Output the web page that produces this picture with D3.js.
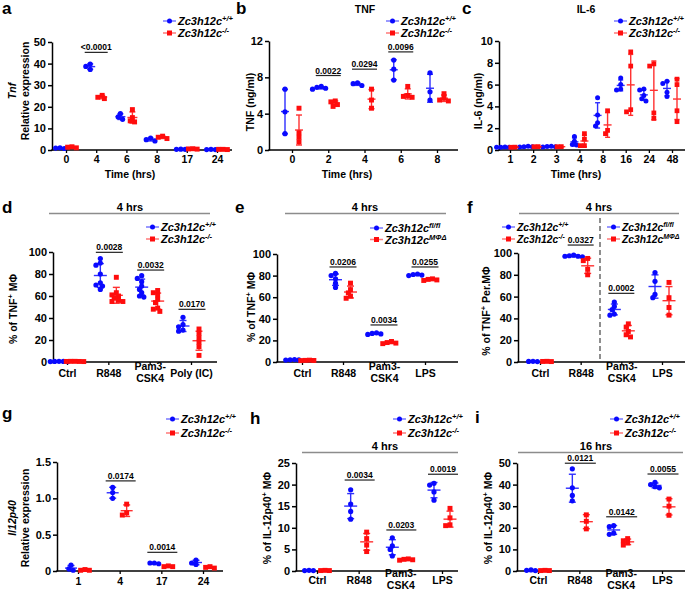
<!DOCTYPE html>
<html><head><meta charset="utf-8">
<script src="https://cdn.jsdelivr.net/npm/d3@7"></script>
<style>
body{margin:0;background:#fff}
svg{display:block}
text{font-family:Arial,"Liberation Sans",sans-serif;font-weight:bold;fill:#000}
</style>
</head><body>
<svg id="c" width="685" height="598"></svg>
<script>
const BLUE="#0a0aff", RED="#ff0d0d";

// ---------- Panel a : Tnf relative expression ----------
const aCats=["0","4","6","8","17","24"];
const aWT=[[0.9,0.7,1.0],[39.8,38.7,37.3],[16.8,15.3,14.2],[5.5,4.8,4.2],[0.4,0.3,0.3],[0.3,0.2,0.2]];
const aKO=[[1.3,1.0,1.5],[25.3,24.4,23.8],[18.7,15.0,13.5,13.0],[6.4,5.9,5.3],[0.6,0.5,0.4],[0.3,0.2,0.3]];
const aTicks=[0,10,20,30,40,50];
const aSigCats=["4"], aSigLabels=["<0.0001"], aSigLevels=[45.2];

// ---------- Panel b : TNF ng/ml ----------
const bCats=["0","2","4","6","8"];
const bWT=[[6.7,4.2,1.8],[7.0,6.8,6.9,6.7],[7.4,7.3,7.1],[9.9,8.9,7.7],[8.5,6.4,5.5]];
const bKO=[[4.6,1.9,1.4,0.9],[5.4,5.0,4.8,5.3],[6.7,5.5,4.6],[7.0,6.0,5.8,5.9],[6.2,5.7,5.5,5.4]];
const bTicks=[0,4,8,12];
const bSigCats=["2","4","6"], bSigLabels=["0.0022","0.0294","0.0096"], bSigLevels=[8.2,8.9,10.8];

// ---------- Panel c : IL-6 ng/ml ----------
const cCats=["1","2","3","4","8","16","24","48"];
const cWT=[[0.25,0.25,0.28,0.26],[0.3,0.28,0.35,0.3],[0.3,0.32,0.35,0.28],[1.25,0.8,0.5,0.45],[4.8,3.2,2.5,2.2],[6.6,6.0,5.6,5.5],[5.6,5.5,5.0,4.7,4.5],[6.3,6.1,5.3,4.9]];
const cKO=[[0.25,0.26],[0.3,0.31],[0.3,0.31],[1.5,1.0,0.4,0.4],[3.6,1.8,1.5],[9.0,7.7,3.7,3.5],[7.9,7.7,3.4,2.9],[6.5,6.0,3.6,2.6]];
const cTicks=[0,2,4,6,8,10];

// ---------- Panel d : % TNF+ MΦ ----------
const dCats=["Ctrl","R848","Pam3-\nCSK4","Poly (IC)"];
const dWT=[[0.5,0.4,0.6,0.5,0.4],[94,90,88,80,72,70,69,66],[78.5,76,73,69,66,63,60,59],[40.6,34,32,29,28]];
const dKO=[[0.5,0.6,0.4,0.5,0.6],[77,63,61,60,58,56,55,55],[65,63,61,57,54,49,48,46],[30,26,22,18,14,6]];
const pctTicks=[0,20,40,60,80,100];
const dSigCats=["R848","Pam3-\nCSK4","Poly (IC)"], dSigLabels=["0.0028","0.0032","0.0170"], dSigLevels=[99.7,83.6,47.9];

// ---------- Panel e ----------
const eCats=["Ctrl","R848","Pam3-\nCSK4","LPS"];
const eWT=[[2.0,1.8,2.2,1.9],[82,80,77,73,69],[27,26.5,26,25.5],[81.5,81,80.5,80]];
const eKO=[[1.5,1.3,1.7,1.4],[73,67,64,61,59],[19,18,17,17.5],[77,76.5,76,75.5]];
const eSigCats=["R848","Pam3-\nCSK4","LPS"], eSigLabels=["0.0206","0.0034","0.0255"], eSigLevels=[88,34.3,88];

// ---------- Panel f ----------
const fCats=["Ctrl","R848","Pam3-\nCSK4","LPS"];
const fWT=[[0.5,0.4,0.6],[97.5,97,96.5,97,98],[55,51,48,44,43],[82,74,62,59]];
const fKO=[[0.5,0.4,0.6],[95,93,85,80],[35,32,28,25,23],[73,59,50,43]];
const fSigCats=["R848","Pam3-\nCSK4"], fSigLabels=["0.0327","0.0002"], fSigLevels=[107.3,63];

// ---------- Panel g : Il12p40 ----------
const gCats=["1","4","17","24"];
const gWT=[[0.08,0.03,0.01],[1.15,1.08,1.0],[0.11,0.11,0.1],[0.15,0.11,0.09]];
const gKO=[[0.02,0.01,0.01],[0.92,0.8,0.77],[0.06,0.06,0.07],[0.06,0.05,0.04]];
const gTicks=[0,0.5,1.0,1.5], gTickLabels=["0","0.5","1.0","1.5"];
const gSigCats=["4","17"], gSigLabels=["0.0174","0.0014"], gSigLevels=[1.24,0.257];

// ---------- Panel h ----------
const hCats=["Ctrl","R848","Pam3-\nCSK4","LPS"];
const hWT=[[0.1,0.15,0.1],[18.8,15.5,13.8,12],[7.7,5.8,5.0,3.5],[20.3,19.9,18.3,16.4]];
const hKO=[[0.1,0.1,0.15],[9,7.5,6,4.5],[2.8,2.6,2.5,2.7],[14.5,12.3,10.7,10.5]];
const hTicks=[0,5,10,15,20,25];
const hSigCats=["R848","Pam3-\nCSK4","LPS"], hSigLabels=["0.0034","0.0203","0.0019"], hSigLevels=[21.06,9.5,22.4];

// ---------- Panel i ----------
const iCats=["Ctrl","R848","Pam3-\nCSK4","LPS"];
const iWT=[[0.5,0.3,0.2],[47.3,38.5,35,32.5],[21,20.5,17.5,17],[41,40,39,38.5]];
const iKO=[[0.2,0.3,0.2],[26,23,19.5],[15,14,13,12],[33.3,30,25.8]];
const iTicks=[0,10,20,30,40,50];
const iSigCats=["R848","Pam3-\nCSK4","LPS"], iSigLabels=["0.0121","0.0142","0.0055"], iSigLevels=[49.9,25.1,44.9];

// legend labels
const LWT="Zc3h12c^(+/+)", LKO="Zc3h12c^(-/-)", LFL="Zc3h12c^(fl/fl)", LMD="Zc3h12c^(MΦΔ)";

const svg=d3.select("#c");

function rich(t,str,supSize){
  const parts=str.split(/\^\((.*?)\)/);
  let wasSup=false;
  parts.forEach((s,i)=>{
    if(s==="") { return; }
    const sp=t.append("tspan").text(s);
    if(i%2===1){ sp.attr("font-size",supSize).attr("dy",-4); wasSup=true; }
    else if(wasSup){ sp.attr("dy",4); wasSup=false; }
  });
}

function shape(g,x,y,color,kind,sz){
  if(kind==="c") g.append("circle").attr("cx",x).attr("cy",y).attr("r",sz/2).attr("fill",color);
  else g.append("rect").attr("x",x-sz/2).attr("y",y-sz/2).attr("width",sz).attr("height",sz).attr("fill",color);
}

function swarm(vals,y,d){
  const pts=vals.map(v=>({v,py:y(v)})).sort((a,b)=>a.py-b.py);
  const placed=[];
  pts.forEach(p=>{
    const cands=[0];
    for(let k=1;k<10;k++){cands.push(-k*d*0.42,k*d*0.42);}
    for(const c of cands){
      if(placed.every(q=>Math.hypot(q.dx-c,q.py-p.py)>=d*0.72)){p.dx=c;break;}
    }
    if(p.dx===undefined)p.dx=0;
    placed.push(p);
  });
  return pts;
}

function drawPanel(p){
  const g=svg.append("g");
  const x=d3.scalePoint().domain(p.cats).range(p.xRange);
  const y=d3.scaleLinear().domain([p.yTicks[0],p.yTicks[p.yTicks.length-1]]).range(p.yRange);
  // y axis
  const ya=g.append("g").attr("transform",`translate(${p.x0},0)`)
    .call(d3.axisLeft(y).tickValues(p.yTicks).tickFormat((d,i)=>p.yLabels?p.yLabels[i]:d).tickSize(4).tickPadding(2).tickSizeOuter(0));
  ya.selectAll("path,line").attr("stroke","#000").attr("stroke-width",1.5);
  ya.selectAll("text").attr("font-size",11).attr("font-family","Arial,'Liberation Sans',sans-serif").attr("font-weight","bold");
  // x axis
  const xa=g.append("g").attr("transform",`translate(0,${p.yRange[0]})`)
    .call(d3.axisBottom(x).tickSize(3).tickPadding(p.xPad));
  xa.select(".domain").remove();
  xa.selectAll("line").attr("stroke","#000").attr("stroke-width",1.3);
  xa.selectAll("text").attr("font-size",10.5).attr("font-family","Arial,'Liberation Sans',sans-serif").attr("font-weight","bold")
    .each(function(d){
      const lines=d.split("\n");
      if(lines.length>1){
        const t=d3.select(this); t.text(null);
        lines.forEach((l,i)=>t.append("tspan").attr("x",0).attr("dy",i===0?0:"1.15em").text(l));
      }
    });
  g.append("line").attr("x1",p.x0-0.75).attr("x2",p.xEnd).attr("y1",p.yRange[0]).attr("y2",p.yRange[0]).attr("stroke","#000").attr("stroke-width",1.5);

  // data
  const colors=[BLUE,RED], kinds=["c","s"];
  p.series.forEach((ser,si)=>{
    ser.forEach((vals,ci)=>{
      const cx=x(p.cats[ci])+(si===0?-p.off:p.off);
      const sz=kinds[si]==="c"?p.ms:p.ms*0.95;
      swarm(vals,y,p.ms).forEach(pt=>shape(g,cx+pt.dx,pt.py,colors[si],kinds[si],sz));
      const m=d3.mean(vals), sd=vals.length>1?d3.deviation(vals):0;
      const eb=g.append("g").attr("stroke",colors[si]).attr("stroke-width",1.4).attr("opacity",0.85);
      eb.append("line").attr("x1",cx-p.mw/2).attr("x2",cx+p.mw/2).attr("y1",y(m)).attr("y2",y(m));
      if(sd>0){
        eb.append("line").attr("x1",cx).attr("x2",cx).attr("y1",y(m-sd)).attr("y2",y(m+sd));
        [m-sd,m+sd].forEach(v=>eb.append("line").attr("x1",cx-p.cw/2).attr("x2",cx+p.cw/2).attr("y1",y(v)).attr("y2",y(v)));
      }
    });
  });

  // significance
  if(p.sigCats){
    p.sigCats.forEach((c,i)=>{
      const cx=x(c)+(p.sigShift||0), yy=y(p.sigLevels[i]);
      g.append("line").attr("x1",cx-p.sigW/2).attr("x2",cx+p.sigW/2).attr("y1",yy).attr("y2",yy).attr("stroke","#222").attr("stroke-width",1.2);
      g.append("text").attr("x",cx).attr("y",yy-2).attr("text-anchor","middle").attr("font-size",8.5).text(p.sigLabels[i]);
    });
  }

  // legend
  (p.legend||[]).forEach(L=>{
    const lg=g.append("g");
    lg.append("line").attr("x1",L.x).attr("x2",L.x+13).attr("y1",L.y).attr("y2",L.y).attr("stroke",L.color).attr("stroke-width",1.5).attr("opacity",0.55);
    shape(lg,L.x+6.5,L.y,L.color,L.kind,5);
    const t=lg.append("text").attr("x",L.x+15).attr("y",L.y+4).attr("font-size",L.fs||11).attr("font-style","italic");
    rich(t,L.label,L.fs?7:7.5);
  });

  // y label
  p.yTitle.forEach(l=>{
    const t=g.append("text").attr("transform",`translate(${l.x},${p.yTitleCY}) rotate(-90)`).attr("text-anchor","middle").attr("font-size",10.5);
    if(l.it) t.attr("font-style","italic");
    rich(t,l.t,7.5);
  });
  if(p.xTitle) g.append("text").attr("x",p.xTitle[1]).attr("y",p.xTitle[2]).attr("text-anchor","middle").attr("font-size",10.5).text(p.xTitle[0]);
  if(p.title) g.append("text").attr("x",p.title[1]).attr("y",p.title[2]).attr("text-anchor","middle").attr("font-size",10.5).text(p.title[0]);
  if(p.header){
    const h=p.header;
    g.append("text").attr("x",h.x).attr("y",h.y).attr("text-anchor","middle").attr("font-size",11).text(h.t);
    g.append("line").attr("x1",h.x1).attr("x2",h.x2).attr("y1",h.ly).attr("y2",h.ly).attr("stroke","#8c8c8c").attr("stroke-width",1.5);
  }
  g.append("text").attr("x",p.letter[1]).attr("y",p.letter[2]).attr("font-size",17).text(p.letter[0]);
  return {g,x,y};
}

const YT_pctTNF=[{t:"% of TNF^(+) MΦ"}];
const YT_pctIL=[{t:"% of IL-12p40^(+) MΦ"}];

// a
drawPanel({letter:["a",2,14],cats:aCats,series:[aWT,aKO],xRange:[66,217],yRange:[150,42],yTicks:aTicks,x0:52,xEnd:232,xPad:2.5,off:6,ms:5.2,mw:10,cw:6,
  sigCats:aSigCats,sigLabels:aSigLabels,sigLevels:aSigLevels,sigW:23,
  legend:[{x:163,y:21,color:BLUE,kind:"c",label:LWT},{x:163,y:33,color:RED,kind:"s",label:LKO}],
  yTitle:[{t:"Tnf",it:true,x:15.5},{t:"Relative expression",x:28.5}],yTitleCY:91,xTitle:["Time (hrs)",130,177.5]});
// b
drawPanel({letter:["b",236,14],cats:bCats,series:[bWT,bKO],xRange:[292,437],yRange:[150,41],yTicks:bTicks,x0:269,xEnd:458,xPad:3,off:7,ms:5.2,mw:8,cw:6,
  sigCats:bSigCats,sigLabels:bSigLabels,sigLevels:bSigLevels,sigW:25,
  legend:[{x:386,y:21,color:BLUE,kind:"c",label:LWT},{x:386,y:33,color:RED,kind:"s",label:LKO}],
  yTitle:[{t:"TNF (ng/ml)",x:254}],yTitleCY:102,xTitle:["Time (hrs)",347,177.5],title:["TNF",365,13]});
// c
drawPanel({letter:["c",462,14],cats:cCats,series:[cWT,cKO],xRange:[510,672],yRange:[150,41],yTicks:cTicks,x0:499,xEnd:685,xPad:3,off:5,ms:5,mw:8,cw:5,
  legend:[{x:614,y:21,color:BLUE,kind:"c",label:LWT},{x:614,y:33,color:RED,kind:"s",label:LKO}],
  yTitle:[{t:"IL-6 (ng/ml)",x:481.5}],yTitleCY:101,xTitle:["Time (hrs)",576,177.5],title:["IL-6",586,13]});
// d
drawPanel({letter:["d",2,213],cats:dCats,series:[dWT,dKO],xRange:[67,191],yRange:[362,252],yTicks:pctTicks,x0:53,xEnd:217,xPad:4.5,off:8,ms:5.2,mw:13,cw:7,
  sigCats:dSigCats,sigLabels:dSigLabels,sigLevels:dSigLevels,sigW:27,sigShift:1,
  legend:[{x:146,y:227,color:BLUE,kind:"c",label:LWT},{x:146,y:239,color:RED,kind:"s",label:LKO}],
  yTitle:YT_pctTNF.map(o=>({...o,x:16.5})),yTitleCY:309,header:{t:"4 hrs",x:130,y:210.5,x1:49,x2:210,ly:213.5}});
// e
drawPanel({letter:["e",235,213],cats:eCats,series:[eWT,eKO],xRange:[302,425],yRange:[362,254],yTicks:pctTicks,x0:277,xEnd:458,xPad:4.5,off:7.5,ms:5.2,mw:13,cw:7,
  sigCats:eSigCats,sigLabels:eSigLabels,sigLevels:eSigLevels,sigW:27,
  legend:[{x:370,y:228,color:BLUE,kind:"c",label:LFL},{x:370,y:239.5,color:RED,kind:"s",label:LMD}],
  yTitle:YT_pctTNF.map(o=>({...o,x:254.5})),yTitleCY:307,header:{t:"4 hrs",x:365,y:210.5,x1:285,x2:446,ly:213.5}});
// f
const fp=drawPanel({letter:["f",467,213],cats:fCats,series:[fWT,fKO],xRange:[540,662],yRange:[362,253],yTicks:pctTicks,x0:518,xEnd:685,xPad:4.5,off:7,ms:5.2,mw:13,cw:7,
  sigCats:fSigCats,sigLabels:fSigLabels,sigLevels:fSigLevels,sigW:26,
  legend:[{x:502,y:227,color:BLUE,kind:"c",label:LWT,fs:10.3},{x:502,y:239,color:RED,kind:"s",label:LKO,fs:10.3},
          {x:607,y:227,color:BLUE,kind:"c",label:LFL,fs:10.3},{x:607,y:239,color:RED,kind:"s",label:LMD,fs:10.3}],
  yTitle:[{t:"% of TNF^(+) Per.MΦ",x:490}],yTitleCY:311,header:{t:"4 hrs",x:599,y:210.5,x1:519,x2:679,ly:213.5}});
fp.g.append("line").attr("x1",600).attr("x2",600).attr("y1",218).attr("y2",362).attr("stroke","#444").attr("stroke-width",1.2).attr("stroke-dasharray","5,3");
// g
drawPanel({letter:["g",2,419],cats:gCats,series:[gWT,gKO],xRange:[78,203],yRange:[571,462],yTicks:gTicks,yLabels:gTickLabels,x0:57,xEnd:223,xPad:3.5,off:7,ms:5.2,mw:12,cw:7,
  sigCats:gSigCats,sigLabels:gSigLabels,sigLevels:gSigLevels,sigW:30,sigShift:1,
  legend:[{x:166,y:419,color:BLUE,kind:"c",label:LWT},{x:166,y:433,color:RED,kind:"s",label:LKO}],
  yTitle:[{t:"Il12p40",it:true,x:16},{t:"Relative expression",x:29}],yTitleCY:518});
// h
drawPanel({letter:["h",250,424],cats:hCats,series:[hWT,hKO],xRange:[317,442],yRange:[571,463],yTicks:hTicks,x0:296,xEnd:458,xPad:3,off:8,ms:5.2,mw:13,cw:7,
  sigCats:hSigCats,sigLabels:hSigLabels,sigLevels:hSigLevels,sigW:30,sigShift:1,
  legend:[{x:393,y:419,color:BLUE,kind:"c",label:LWT},{x:393,y:433,color:RED,kind:"s",label:LKO}],
  yTitle:YT_pctIL.map(o=>({...o,x:271})),yTitleCY:518,header:{t:"4 hrs",x:385,y:449.5,x1:302,x2:458,ly:452.5}});
// i
drawPanel({letter:["i",475,423],cats:iCats,series:[iWT,iKO],xRange:[538,662],yRange:[571,463],yTicks:iTicks,x0:517,xEnd:685,xPad:3,off:7,ms:5.2,mw:13,cw:7,
  sigCats:iSigCats,sigLabels:iSigLabels,sigLevels:iSigLevels,sigW:31,sigShift:1,
  legend:[{x:610,y:419,color:BLUE,kind:"c",label:LWT},{x:610,y:433,color:RED,kind:"s",label:LKO}],
  yTitle:YT_pctIL.map(o=>({...o,x:492})),yTitleCY:518,header:{t:"16 hrs",x:596,y:449.5,x1:518,x2:683,ly:452.5}});
</script>
</body></html>
